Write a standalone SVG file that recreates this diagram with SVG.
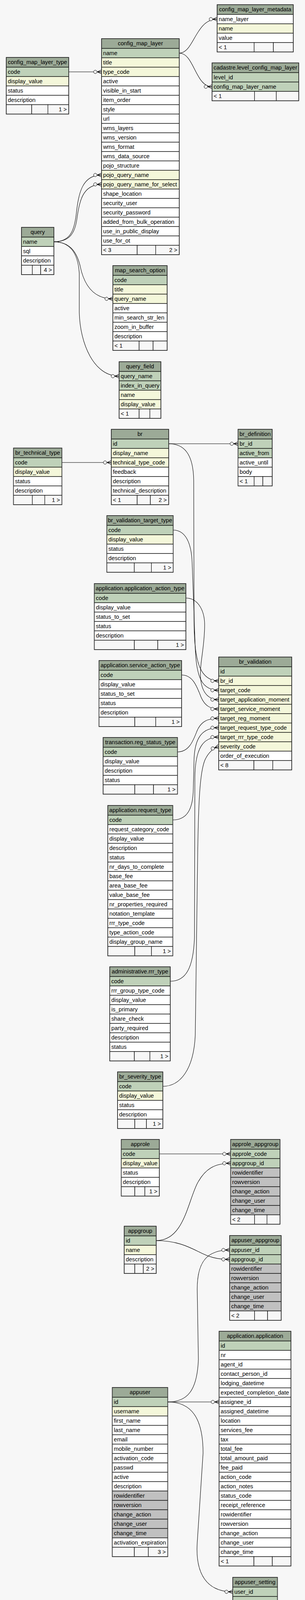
<svg xmlns="http://www.w3.org/2000/svg" width="781" height="4236" viewBox="0 0 781 4236">
<style>
text{font-family:"Liberation Sans",Arial,Helvetica,sans-serif;font-size:14.67px;fill:#000}
.tb rect{stroke:#000;stroke-width:1.2}
.h{fill:#9caa97}.p{fill:#bfd1b9}.i{fill:#f4f7da}.w{fill:#fff}.g{fill:#c0c0c0}.f{fill:#f7f7f7}
.tb rect.o{fill:none;stroke:#333;stroke-width:1.6}
.hc{text-anchor:middle}.r{text-anchor:end}
.cn path{fill:none;stroke:#000;stroke-width:1.1}
.cn path.e{marker-end:url(#crow)}
</style>
<defs>
<marker id="crow" viewBox="-22 -7 24 14" refX="0" refY="0" markerWidth="24" markerHeight="14" markerUnits="userSpaceOnUse" orient="auto">
<path d="M-11 0L0-5M-11 0L0 0M-11 0L0 5" fill="none" stroke="#000" stroke-width="1.3"/>
<circle cx="-16" cy="0" r="4.3" fill="#f7f7f7" stroke="#000" stroke-width="1"/>
</marker>
</defs>
<rect x="0" y="0" width="781" height="4236" fill="#f7f7f7"/>

<g id="connectors" class="cn">
<path class="e" d="M176 184L260 184"/>
<path class="e" d="M459 136C497 136 500 49 556 49"/>
<path class="e" d="M459 136C497 136 500 222 543 222"/>
<path class="e" d="M137.5 619C180 619 190 590 195 550C201 495 210 448 260 448"/>
<path class="e" d="M137.5 619C180 619 192 595 197 560C203 515 212 472 260 472"/>
<path class="e" d="M137.5 619C175 619 195 640 205 680C215 730 240 765 289 765"/>
<path class="e" d="M137.5 619C180 619 200 650 203 700L203 800C205 880 240 963 305 963"/>
<path class="e" d="M158.5 1184L285 1184"/>
<path class="e" d="M432 1136L609.5 1136"/>
<path class="e" d="M432 1136C470 1136 495 1160 496 1230L497 1600C498 1700 515 1743 560 1743"/>
<path class="e" d="M443.5 1357C475 1357 490 1390 492 1440L500 1660C503 1740 520 1767 560 1767"/>
<path class="e" d="M476 1531C505 1531 524 1560 524 1600C524 1660 510 1700 514 1740C518 1775 535 1791 560 1791"/>
<path class="e" d="M465 1728C495 1728 505 1760 515 1785C525 1808 540 1815 560 1815"/>
<path class="e" d="M454.5 1925C485 1925 495 1895 505 1870C515 1848 530 1839 560 1839"/>
<path class="e" d="M442.5 2099C480 2099 494 2070 495 2020L497 1940C500 1885 520 1863 560 1863"/>
<path class="e" d="M436 2512C475 2512 495 2480 498 2400L499 1990C500 1915 520 1887 560 1887"/>
<path class="e" d="M417 2781C460 2781 496 2740 500 2650L506 2200C508 2050 512 1975 525 1945C533 1928 545 1916 560 1911"/>
<path class="e" d="M408 2954L590.5 2954"/>
<path class="e" d="M400 3176C470 3176 480 3080 505 3030C525 2992 550 2978 590.5 2978"/>
<path class="e" d="M400 3176C450 3176 480 3190 510 3205C535 3218 555 3224 588 3224"/>
<path class="e" d="M429.5 3589C480 3589 505 3560 508 3480L505 3300C505 3230 530 3200 588 3200"/>
<path class="e" d="M429.5 3589L561 3589"/>
<path class="e" d="M429.5 3589C490 3589 520 3630 520 3720L505 3950C500 4030 530 4075 596 4075"/>
</g>

<g id="config_map_layer_metadata" class="tb" transform="translate(556,37)">
<rect class="h" y="-25" width="195" height="25"/><text class="hc" x="97.5" y="-8.5">config_map_layer_metadata</text>
<rect class="w" y="0" width="195" height="24"/><text x="4" y="16.5">name_layer</text>
<rect class="i" y="24" width="195" height="24"/><text x="4" y="40.5">name</text>
<rect class="w" y="48" width="195" height="24"/><text x="4" y="64.5">value</text>
<rect class="f" y="72" width="94.7" height="24"/><rect class="f" x="94.7" y="72" width="49.3" height="24"/><rect class="f" x="144" y="72" width="51" height="24"/>
<text x="4" y="88.5">&lt; 1</text>
<rect class="o" y="-25" width="195" height="121"/>
</g>

<g id="config_map_layer" class="tb" transform="translate(260,124)">
<rect class="h" y="-25" width="199" height="25"/><text class="hc" x="99.5" y="-8.5">config_map_layer</text>
<rect class="p" y="0" width="199" height="24"/><text x="4" y="16.5">name</text>
<rect class="i" y="24" width="199" height="24"/><text x="4" y="40.5">title</text>
<rect class="i" y="48" width="199" height="24"/><text x="4" y="64.5">type_code</text>
<rect class="w" y="72" width="199" height="24"/><text x="4" y="88.5">active</text>
<rect class="w" y="96" width="199" height="24"/><text x="4" y="112.5">visible_in_start</text>
<rect class="w" y="120" width="199" height="24"/><text x="4" y="136.5">item_order</text>
<rect class="w" y="144" width="199" height="24"/><text x="4" y="160.5">style</text>
<rect class="w" y="168" width="199" height="24"/><text x="4" y="184.5">url</text>
<rect class="w" y="192" width="199" height="24"/><text x="4" y="208.5">wms_layers</text>
<rect class="w" y="216" width="199" height="24"/><text x="4" y="232.5">wms_version</text>
<rect class="w" y="240" width="199" height="24"/><text x="4" y="256.5">wms_format</text>
<rect class="w" y="264" width="199" height="24"/><text x="4" y="280.5">wms_data_source</text>
<rect class="w" y="288" width="199" height="24"/><text x="4" y="304.5">pojo_structure</text>
<rect class="i" y="312" width="199" height="24"/><text x="4" y="328.5">pojo_query_name</text>
<rect class="i" y="336" width="199" height="24"/><text x="4" y="352.5">pojo_query_name_for_select</text>
<rect class="w" y="360" width="199" height="24"/><text x="4" y="376.5">shape_location</text>
<rect class="w" y="384" width="199" height="24"/><text x="4" y="400.5">security_user</text>
<rect class="w" y="408" width="199" height="24"/><text x="4" y="424.5">security_password</text>
<rect class="w" y="432" width="199" height="24"/><text x="4" y="448.5">added_from_bulk_operation</text>
<rect class="w" y="456" width="199" height="24"/><text x="4" y="472.5">use_in_public_display</text>
<rect class="w" y="480" width="199" height="24"/><text x="4" y="496.5">use_for_ot</text>
<rect class="f" y="504" width="91.3" height="24"/><rect class="f" x="91.3" y="504" width="47.3" height="24"/><rect class="f" x="138.6" y="504" width="60.4" height="24"/>
<text x="4" y="520.5">&lt; 3</text><text class="r" x="194" y="520.5">2 &gt;</text>
<rect class="o" y="-25" width="199" height="553"/>
</g>

<g id="cadastre.level_config_map_layer" class="tb" transform="translate(543,186)">
<rect class="h" y="-25" width="222" height="25"/><text class="hc" x="111" y="-8.5">cadastre.level_config_map_layer</text>
<rect class="p" y="0" width="222" height="24"/><text x="4" y="16.5">level_id</text>
<rect class="p" y="24" width="222" height="24"/><text x="4" y="40.5">config_map_layer_name</text>
<rect class="f" y="48" width="108.7" height="24"/><rect class="f" x="108.7" y="48" width="55.8" height="24"/><rect class="f" x="164.5" y="48" width="57.5" height="24"/>
<text x="4" y="64.5">&lt; 1</text>
<rect class="o" y="-25" width="222" height="97"/>
</g>

<g id="config_map_layer_type" class="tb" transform="translate(16,172)">
<rect class="h" y="-25" width="160" height="25"/><text class="hc" x="80" y="-8.5">config_map_layer_type</text>
<rect class="p" y="0" width="160" height="24"/><text x="4" y="16.5">code</text>
<rect class="i" y="24" width="160" height="24"/><text x="4" y="40.5">display_value</text>
<rect class="w" y="48" width="160" height="24"/><text x="4" y="64.5">status</text>
<rect class="w" y="72" width="160" height="24"/><text x="4" y="88.5">description</text>
<rect class="f" y="96" width="65.2" height="24"/><rect class="f" x="65.2" y="96" width="41.4" height="24"/><rect class="f" x="106.6" y="96" width="53.4" height="24"/>
<text class="r" x="155" y="112.5">1 &gt;</text>
<rect class="o" y="-25" width="160" height="145"/>
</g>

<g id="query" class="tb" transform="translate(55,607)">
<rect class="h" y="-25" width="83" height="25"/><text class="hc" x="41.5" y="-8.5">query</text>
<rect class="p" y="0" width="83" height="24"/><text x="4" y="16.5">name</text>
<rect class="w" y="24" width="83" height="24"/><text x="4" y="40.5">sql</text>
<rect class="w" y="48" width="83" height="24"/><text x="4" y="64.5">description</text>
<rect class="f" y="72" width="27.7" height="24"/><rect class="f" x="27.7" y="72" width="21.4" height="24"/><rect class="f" x="49.1" y="72" width="33.9" height="24"/>
<text class="r" x="78" y="88.5">4 &gt;</text>
<rect class="o" y="-25" width="83" height="121"/>
</g>

<g id="map_search_option" class="tb" transform="translate(289,705)">
<rect class="h" y="-25" width="139" height="25"/><text class="hc" x="69.5" y="-8.5">map_search_option</text>
<rect class="p" y="0" width="139" height="24"/><text x="4" y="16.5">code</text>
<rect class="i" y="24" width="139" height="24"/><text x="4" y="40.5">title</text>
<rect class="i" y="48" width="139" height="24"/><text x="4" y="64.5">query_name</text>
<rect class="w" y="72" width="139" height="24"/><text x="4" y="88.5">active</text>
<rect class="w" y="96" width="139" height="24"/><text x="4" y="112.5">min_search_str_len</text>
<rect class="w" y="120" width="139" height="24"/><text x="4" y="136.5">zoom_in_buffer</text>
<rect class="w" y="144" width="139" height="24"/><text x="4" y="160.5">description</text>
<rect class="f" y="168" width="67.3" height="24"/><rect class="f" x="67.3" y="168" width="35.7" height="24"/><rect class="f" x="103" y="168" width="36" height="24"/>
<text x="4" y="184.5">&lt; 1</text>
<rect class="o" y="-25" width="139" height="217"/>
</g>

<g id="query_field" class="tb" transform="translate(305,951)">
<rect class="h" y="-25" width="107" height="25"/><text class="hc" x="53.5" y="-8.5">query_field</text>
<rect class="p" y="0" width="107" height="24"/><text x="4" y="16.5">query_name</text>
<rect class="p" y="24" width="107" height="24"/><text x="4" y="40.5">index_in_query</text>
<rect class="i" y="48" width="107" height="24"/><text x="4" y="64.5">name</text>
<rect class="i" y="72" width="107" height="24"/><text x="4" y="88.5">display_value</text>
<rect class="f" y="96" width="51.3" height="24"/><rect class="f" x="51.3" y="96" width="27.4" height="24"/><rect class="f" x="78.7" y="96" width="28.3" height="24"/>
<text x="4" y="112.5">&lt; 1</text>
<rect class="o" y="-25" width="107" height="145"/>
</g>

<g id="br" class="tb" transform="translate(285,1124)">
<rect class="h" y="-25" width="147" height="25"/><text class="hc" x="73.5" y="-8.5">br</text>
<rect class="p" y="0" width="147" height="24"/><text x="4" y="16.5">id</text>
<rect class="i" y="24" width="147" height="24"/><text x="4" y="40.5">display_name</text>
<rect class="i" y="48" width="147" height="24"/><text x="4" y="64.5">technical_type_code</text>
<rect class="w" y="72" width="147" height="24"/><text x="4" y="88.5">feedback</text>
<rect class="w" y="96" width="147" height="24"/><text x="4" y="112.5">description</text>
<rect class="w" y="120" width="147" height="24"/><text x="4" y="136.5">technical_description</text>
<rect class="f" y="144" width="66.3" height="24"/><rect class="f" x="66.3" y="144" width="33.7" height="24"/><rect class="f" x="100" y="144" width="47" height="24"/>
<text x="4" y="160.5">&lt; 1</text><text class="r" x="142" y="160.5">2 &gt;</text>
<rect class="o" y="-25" width="147" height="193"/>
</g>

<g id="br_technical_type" class="tb" transform="translate(34.5,1172)">
<rect class="h" y="-25" width="124" height="25"/><text class="hc" x="62" y="-8.5">br_technical_type</text>
<rect class="p" y="0" width="124" height="24"/><text x="4" y="16.5">code</text>
<rect class="i" y="24" width="124" height="24"/><text x="4" y="40.5">display_value</text>
<rect class="w" y="48" width="124" height="24"/><text x="4" y="64.5">status</text>
<rect class="w" y="72" width="124" height="24"/><text x="4" y="88.5">description</text>
<rect class="f" y="96" width="48.2" height="24"/><rect class="f" x="48.2" y="96" width="31.9" height="24"/><rect class="f" x="80.1" y="96" width="43.9" height="24"/>
<text class="r" x="119" y="112.5">1 &gt;</text>
<rect class="o" y="-25" width="124" height="145"/>
</g>

<g id="br_definition" class="tb" transform="translate(609.5,1124)">
<rect class="h" y="-25" width="87.5" height="25"/><text class="hc" x="43.75" y="-8.5">br_definition</text>
<rect class="p" y="0" width="87.5" height="24"/><text x="4" y="16.5">br_id</text>
<rect class="p" y="24" width="87.5" height="24"/><text x="4" y="40.5">active_from</text>
<rect class="w" y="48" width="87.5" height="24"/><text x="4" y="64.5">active_until</text>
<rect class="w" y="72" width="87.5" height="24"/><text x="4" y="88.5">body</text>
<rect class="f" y="96" width="41.2" height="24"/><rect class="f" x="41.2" y="96" width="22.3" height="24"/><rect class="f" x="63.5" y="96" width="24" height="24"/>
<text x="4" y="112.5">&lt; 1</text>
<rect class="o" y="-25" width="87.5" height="145"/>
</g>

<g id="br_validation_target_type" class="tb" transform="translate(273.5,1345)">
<rect class="h" y="-25" width="170" height="25"/><text class="hc" x="85" y="-8.5">br_validation_target_type</text>
<rect class="p" y="0" width="170" height="24"/><text x="4" y="16.5">code</text>
<rect class="i" y="24" width="170" height="24"/><text x="4" y="40.5">display_value</text>
<rect class="w" y="48" width="170" height="24"/><text x="4" y="64.5">status</text>
<rect class="w" y="72" width="170" height="24"/><text x="4" y="88.5">description</text>
<rect class="f" y="96" width="70.3" height="24"/><rect class="f" x="70.3" y="96" width="43.8" height="24"/><rect class="f" x="114.1" y="96" width="55.9" height="24"/>
<text class="r" x="165" y="112.5">1 &gt;</text>
<rect class="o" y="-25" width="170" height="145"/>
</g>

<g id="application.application_action_type" class="tb" transform="translate(241.5,1519)">
<rect class="h" y="-25" width="234.5" height="25"/><text class="hc" x="117.25" y="-8.5">application.application_action_type</text>
<rect class="p" y="0" width="234.5" height="24"/><text x="4" y="16.5">code</text>
<rect class="w" y="24" width="234.5" height="24"/><text x="4" y="40.5">display_value</text>
<rect class="w" y="48" width="234.5" height="24"/><text x="4" y="64.5">status_to_set</text>
<rect class="w" y="72" width="234.5" height="24"/><text x="4" y="88.5">status</text>
<rect class="w" y="96" width="234.5" height="24"/><text x="4" y="112.5">description</text>
<rect class="f" y="120" width="102.5" height="24"/><rect class="f" x="102.5" y="120" width="60" height="24"/><rect class="f" x="162.5" y="120" width="72" height="24"/>
<text class="r" x="229.5" y="136.5">1 &gt;</text>
<rect class="o" y="-25" width="234.5" height="169"/>
</g>

<g id="application.service_action_type" class="tb" transform="translate(253.5,1716)">
<rect class="h" y="-25" width="211.5" height="25"/><text class="hc" x="105.75" y="-8.5">application.service_action_type</text>
<rect class="p" y="0" width="211.5" height="24"/><text x="4" y="16.5">code</text>
<rect class="w" y="24" width="211.5" height="24"/><text x="4" y="40.5">display_value</text>
<rect class="w" y="48" width="211.5" height="24"/><text x="4" y="64.5">status_to_set</text>
<rect class="w" y="72" width="211.5" height="24"/><text x="4" y="88.5">status</text>
<rect class="w" y="96" width="211.5" height="24"/><text x="4" y="112.5">description</text>
<rect class="f" y="120" width="91.7" height="24"/><rect class="f" x="91.7" y="120" width="53.5" height="24"/><rect class="f" x="145.2" y="120" width="66.3" height="24"/>
<text class="r" x="206.5" y="136.5">1 &gt;</text>
<rect class="o" y="-25" width="211.5" height="169"/>
</g>

<g id="br_validation" class="tb" transform="translate(560,1707)">
<rect class="h" y="-25" width="187" height="25"/><text class="hc" x="93.5" y="-8.5">br_validation</text>
<rect class="p" y="0" width="187" height="24"/><text x="4" y="16.5">id</text>
<rect class="i" y="24" width="187" height="24"/><text x="4" y="40.5">br_id</text>
<rect class="i" y="48" width="187" height="24"/><text x="4" y="64.5">target_code</text>
<rect class="i" y="72" width="187" height="24"/><text x="4" y="88.5">target_application_moment</text>
<rect class="i" y="96" width="187" height="24"/><text x="4" y="112.5">target_service_moment</text>
<rect class="i" y="120" width="187" height="24"/><text x="4" y="136.5">target_reg_moment</text>
<rect class="i" y="144" width="187" height="24"/><text x="4" y="160.5">target_request_type_code</text>
<rect class="i" y="168" width="187" height="24"/><text x="4" y="184.5">target_rrr_type_code</text>
<rect class="i" y="192" width="187" height="24"/><text x="4" y="208.5">severity_code</text>
<rect class="w" y="216" width="187" height="24"/><text x="4" y="232.5">order_of_execution</text>
<rect class="f" y="240" width="90.2" height="24"/><rect class="f" x="90.2" y="240" width="48.3" height="24"/><rect class="f" x="138.5" y="240" width="48.5" height="24"/>
<text x="4" y="256.5">&lt; 8</text>
<rect class="o" y="-25" width="187" height="289"/>
</g>

<g id="transaction.reg_status_type" class="tb" transform="translate(264,1913)">
<rect class="h" y="-25" width="190.5" height="25"/><text class="hc" x="95.25" y="-8.5">transaction.reg_status_type</text>
<rect class="p" y="0" width="190.5" height="24"/><text x="4" y="16.5">code</text>
<rect class="w" y="24" width="190.5" height="24"/><text x="4" y="40.5">display_value</text>
<rect class="w" y="48" width="190.5" height="24"/><text x="4" y="64.5">description</text>
<rect class="w" y="72" width="190.5" height="24"/><text x="4" y="88.5">status</text>
<rect class="f" y="96" width="81.2" height="24"/><rect class="f" x="81.2" y="96" width="47.9" height="24"/><rect class="f" x="129.1" y="96" width="61.4" height="24"/>
<text class="r" x="185.5" y="112.5">1 &gt;</text>
<rect class="o" y="-25" width="190.5" height="145"/>
</g>

<g id="application.request_type" class="tb" transform="translate(276,2087)">
<rect class="h" y="-25" width="166.5" height="25"/><text class="hc" x="83.25" y="-8.5">application.request_type</text>
<rect class="p" y="0" width="166.5" height="24"/><text x="4" y="16.5">code</text>
<rect class="w" y="24" width="166.5" height="24"/><text x="4" y="40.5">request_category_code</text>
<rect class="w" y="48" width="166.5" height="24"/><text x="4" y="64.5">display_value</text>
<rect class="w" y="72" width="166.5" height="24"/><text x="4" y="88.5">description</text>
<rect class="w" y="96" width="166.5" height="24"/><text x="4" y="112.5">status</text>
<rect class="w" y="120" width="166.5" height="24"/><text x="4" y="136.5">nr_days_to_complete</text>
<rect class="w" y="144" width="166.5" height="24"/><text x="4" y="160.5">base_fee</text>
<rect class="w" y="168" width="166.5" height="24"/><text x="4" y="184.5">area_base_fee</text>
<rect class="w" y="192" width="166.5" height="24"/><text x="4" y="208.5">value_base_fee</text>
<rect class="w" y="216" width="166.5" height="24"/><text x="4" y="232.5">nr_properties_required</text>
<rect class="w" y="240" width="166.5" height="24"/><text x="4" y="256.5">notation_template</text>
<rect class="w" y="264" width="166.5" height="24"/><text x="4" y="280.5">rrr_type_code</text>
<rect class="w" y="288" width="166.5" height="24"/><text x="4" y="304.5">type_action_code</text>
<rect class="w" y="312" width="166.5" height="24"/><text x="4" y="328.5">display_group_name</text>
<rect class="f" y="336" width="69.2" height="24"/><rect class="f" x="69.2" y="336" width="42.6" height="24"/><rect class="f" x="111.8" y="336" width="54.7" height="24"/>
<text class="r" x="161.5" y="352.5">1 &gt;</text>
<rect class="o" y="-25" width="166.5" height="385"/>
</g>

<g id="administrative.rrr_type" class="tb" transform="translate(281,2500)">
<rect class="h" y="-25" width="155" height="25"/><text class="hc" x="77.5" y="-8.5">administrative.rrr_type</text>
<rect class="p" y="0" width="155" height="24"/><text x="4" y="16.5">code</text>
<rect class="w" y="24" width="155" height="24"/><text x="4" y="40.5">rrr_group_type_code</text>
<rect class="w" y="48" width="155" height="24"/><text x="4" y="64.5">display_value</text>
<rect class="w" y="72" width="155" height="24"/><text x="4" y="88.5">is_primary</text>
<rect class="w" y="96" width="155" height="24"/><text x="4" y="112.5">share_check</text>
<rect class="w" y="120" width="155" height="24"/><text x="4" y="136.5">party_required</text>
<rect class="w" y="144" width="155" height="24"/><text x="4" y="160.5">description</text>
<rect class="w" y="168" width="155" height="24"/><text x="4" y="184.5">status</text>
<rect class="f" y="192" width="63" height="24"/><rect class="f" x="63" y="192" width="39.8" height="24"/><rect class="f" x="102.8" y="192" width="52.2" height="24"/>
<text class="r" x="150" y="208.5">1 &gt;</text>
<rect class="o" y="-25" width="155" height="241"/>
</g>

<g id="br_severity_type" class="tb" transform="translate(301,2769)">
<rect class="h" y="-25" width="116" height="25"/><text class="hc" x="58" y="-8.5">br_severity_type</text>
<rect class="p" y="0" width="116" height="24"/><text x="4" y="16.5">code</text>
<rect class="i" y="24" width="116" height="24"/><text x="4" y="40.5">display_value</text>
<rect class="w" y="48" width="116" height="24"/><text x="4" y="64.5">status</text>
<rect class="w" y="72" width="116" height="24"/><text x="4" y="88.5">description</text>
<rect class="f" y="96" width="44.2" height="24"/><rect class="f" x="44.2" y="96" width="29.8" height="24"/><rect class="f" x="74" y="96" width="42" height="24"/>
<text class="r" x="111" y="112.5">1 &gt;</text>
<rect class="o" y="-25" width="116" height="145"/>
</g>

<g id="approle" class="tb" transform="translate(310.5,2942)">
<rect class="h" y="-25" width="97.5" height="25"/><text class="hc" x="48.75" y="-8.5">approle</text>
<rect class="p" y="0" width="97.5" height="24"/><text x="4" y="16.5">code</text>
<rect class="i" y="24" width="97.5" height="24"/><text x="4" y="40.5">display_value</text>
<rect class="w" y="48" width="97.5" height="24"/><text x="4" y="64.5">status</text>
<rect class="w" y="72" width="97.5" height="24"/><text x="4" y="88.5">description</text>
<rect class="f" y="96" width="34.7" height="24"/><rect class="f" x="34.7" y="96" width="25.7" height="24"/><rect class="f" x="60.4" y="96" width="37.1" height="24"/>
<text class="r" x="92.5" y="112.5">1 &gt;</text>
<rect class="o" y="-25" width="97.5" height="145"/>
</g>

<g id="approle_appgroup" class="tb" transform="translate(590.5,2942)">
<rect class="h" y="-25" width="126.5" height="25"/><text class="hc" x="63.25" y="-8.5">approle_appgroup</text>
<rect class="p" y="0" width="126.5" height="24"/><text x="4" y="16.5">approle_code</text>
<rect class="p" y="24" width="126.5" height="24"/><text x="4" y="40.5">appgroup_id</text>
<rect class="g" y="48" width="126.5" height="24"/><text x="4" y="64.5">rowidentifier</text>
<rect class="g" y="72" width="126.5" height="24"/><text x="4" y="88.5">rowversion</text>
<rect class="g" y="96" width="126.5" height="24"/><text x="4" y="112.5">change_action</text>
<rect class="g" y="120" width="126.5" height="24"/><text x="4" y="136.5">change_user</text>
<rect class="g" y="144" width="126.5" height="24"/><text x="4" y="160.5">change_time</text>
<rect class="f" y="168" width="61.3" height="24"/><rect class="f" x="61.3" y="168" width="31.8" height="24"/><rect class="f" x="93.1" y="168" width="33.4" height="24"/>
<text x="4" y="184.5">&lt; 2</text>
<rect class="o" y="-25" width="126.5" height="217"/>
</g>

<g id="appgroup" class="tb" transform="translate(318,3164)">
<rect class="h" y="-25" width="82" height="25"/><text class="hc" x="41" y="-8.5">appgroup</text>
<rect class="p" y="0" width="82" height="24"/><text x="4" y="16.5">id</text>
<rect class="i" y="24" width="82" height="24"/><text x="4" y="40.5">name</text>
<rect class="w" y="48" width="82" height="24"/><text x="4" y="64.5">description</text>
<rect class="f" y="72" width="27.2" height="24"/><rect class="f" x="27.2" y="72" width="21.7" height="24"/><rect class="f" x="48.9" y="72" width="33.1" height="24"/>
<text class="r" x="77" y="88.5">2 &gt;</text>
<rect class="o" y="-25" width="82" height="121"/>
</g>

<g id="appuser_appgroup" class="tb" transform="translate(588,3188)">
<rect class="h" y="-25" width="132" height="25"/><text class="hc" x="66" y="-8.5">appuser_appgroup</text>
<rect class="p" y="0" width="132" height="24"/><text x="4" y="16.5">appuser_id</text>
<rect class="p" y="24" width="132" height="24"/><text x="4" y="40.5">appgroup_id</text>
<rect class="g" y="48" width="132" height="24"/><text x="4" y="64.5">rowidentifier</text>
<rect class="g" y="72" width="132" height="24"/><text x="4" y="88.5">rowversion</text>
<rect class="g" y="96" width="132" height="24"/><text x="4" y="112.5">change_action</text>
<rect class="g" y="120" width="132" height="24"/><text x="4" y="136.5">change_user</text>
<rect class="g" y="144" width="132" height="24"/><text x="4" y="160.5">change_time</text>
<rect class="f" y="168" width="63.8" height="24"/><rect class="f" x="63.8" y="168" width="33.4" height="24"/><rect class="f" x="97.2" y="168" width="34.8" height="24"/>
<text x="4" y="184.5">&lt; 2</text>
<rect class="o" y="-25" width="132" height="217"/>
</g>

<g id="application.application" class="tb" transform="translate(561,3433)">
<rect class="h" y="-25" width="184" height="25"/><text class="hc" x="92" y="-8.5">application.application</text>
<rect class="p" y="0" width="184" height="24"/><text x="4" y="16.5">id</text>
<rect class="w" y="24" width="184" height="24"/><text x="4" y="40.5">nr</text>
<rect class="w" y="48" width="184" height="24"/><text x="4" y="64.5">agent_id</text>
<rect class="w" y="72" width="184" height="24"/><text x="4" y="88.5">contact_person_id</text>
<rect class="w" y="96" width="184" height="24"/><text x="4" y="112.5">lodging_datetime</text>
<rect class="w" y="120" width="184" height="24"/><text x="4" y="136.5">expected_completion_date</text>
<rect class="w" y="144" width="184" height="24"/><text x="4" y="160.5">assignee_id</text>
<rect class="w" y="168" width="184" height="24"/><text x="4" y="184.5">assigned_datetime</text>
<rect class="w" y="192" width="184" height="24"/><text x="4" y="208.5">location</text>
<rect class="w" y="216" width="184" height="24"/><text x="4" y="232.5">services_fee</text>
<rect class="w" y="240" width="184" height="24"/><text x="4" y="256.5">tax</text>
<rect class="w" y="264" width="184" height="24"/><text x="4" y="280.5">total_fee</text>
<rect class="w" y="288" width="184" height="24"/><text x="4" y="304.5">total_amount_paid</text>
<rect class="w" y="312" width="184" height="24"/><text x="4" y="328.5">fee_paid</text>
<rect class="w" y="336" width="184" height="24"/><text x="4" y="352.5">action_code</text>
<rect class="w" y="360" width="184" height="24"/><text x="4" y="376.5">action_notes</text>
<rect class="w" y="384" width="184" height="24"/><text x="4" y="400.5">status_code</text>
<rect class="w" y="408" width="184" height="24"/><text x="4" y="424.5">receipt_reference</text>
<rect class="w" y="432" width="184" height="24"/><text x="4" y="448.5">rowidentifier</text>
<rect class="w" y="456" width="184" height="24"/><text x="4" y="472.5">rowversion</text>
<rect class="w" y="480" width="184" height="24"/><text x="4" y="496.5">change_action</text>
<rect class="w" y="504" width="184" height="24"/><text x="4" y="520.5">change_user</text>
<rect class="w" y="528" width="184" height="24"/><text x="4" y="544.5">change_time</text>
<rect class="f" y="552" width="89.2" height="24"/><rect class="f" x="89.2" y="552" width="47.1" height="24"/><rect class="f" x="136.3" y="552" width="47.7" height="24"/>
<text x="4" y="568.5">&lt; 1</text>
<rect class="o" y="-25" width="184" height="601"/>
</g>

<g id="appuser" class="tb" transform="translate(287.5,3577)">
<rect class="h" y="-25" width="142" height="25"/><text class="hc" x="71" y="-8.5">appuser</text>
<rect class="p" y="0" width="142" height="24"/><text x="4" y="16.5">id</text>
<rect class="i" y="24" width="142" height="24"/><text x="4" y="40.5">username</text>
<rect class="w" y="48" width="142" height="24"/><text x="4" y="64.5">first_name</text>
<rect class="w" y="72" width="142" height="24"/><text x="4" y="88.5">last_name</text>
<rect class="w" y="96" width="142" height="24"/><text x="4" y="112.5">email</text>
<rect class="w" y="120" width="142" height="24"/><text x="4" y="136.5">mobile_number</text>
<rect class="w" y="144" width="142" height="24"/><text x="4" y="160.5">activation_code</text>
<rect class="w" y="168" width="142" height="24"/><text x="4" y="184.5">passwd</text>
<rect class="w" y="192" width="142" height="24"/><text x="4" y="208.5">active</text>
<rect class="w" y="216" width="142" height="24"/><text x="4" y="232.5">description</text>
<rect class="g" y="240" width="142" height="24"/><text x="4" y="256.5">rowidentifier</text>
<rect class="g" y="264" width="142" height="24"/><text x="4" y="280.5">rowversion</text>
<rect class="g" y="288" width="142" height="24"/><text x="4" y="304.5">change_action</text>
<rect class="g" y="312" width="142" height="24"/><text x="4" y="328.5">change_user</text>
<rect class="g" y="336" width="142" height="24"/><text x="4" y="352.5">change_time</text>
<rect class="w" y="360" width="142" height="24"/><text x="4" y="376.5">activation_expiration</text>
<rect class="f" y="384" width="56.5" height="24"/><rect class="f" x="56.5" y="384" width="35.8" height="24"/><rect class="f" x="92.3" y="384" width="49.7" height="24"/>
<text class="r" x="137" y="400.5">3 &gt;</text>
<rect class="o" y="-25" width="142" height="433"/>
</g>

<g id="appuser_setting" class="tb" transform="translate(596,4063)">
<rect class="h" y="-25" width="114.5" height="25"/><text class="hc" x="57.25" y="-8.5">appuser_setting</text>
<rect class="p" y="0" width="114.5" height="24"/><text x="4" y="16.5">user_id</text>
<rect class="p" y="24" width="114.5" height="24"/><text x="4" y="40.5">name</text>
<rect class="w" y="48" width="114.5" height="24"/><text x="4" y="64.5">vl</text>
<rect class="w" y="72" width="114.5" height="24"/><text x="4" y="88.5">active</text>
<rect class="f" y="96" width="54.2" height="24"/><rect class="f" x="54.2" y="96" width="30.2" height="24"/><rect class="f" x="84.4" y="96" width="30.1" height="24"/>
<text x="4" y="112.5">&lt; 1</text>
<rect class="o" y="-25" width="114.5" height="145"/>
</g>

<text x="16" y="4221">Generated by SchemaSpy</text>
</svg>
